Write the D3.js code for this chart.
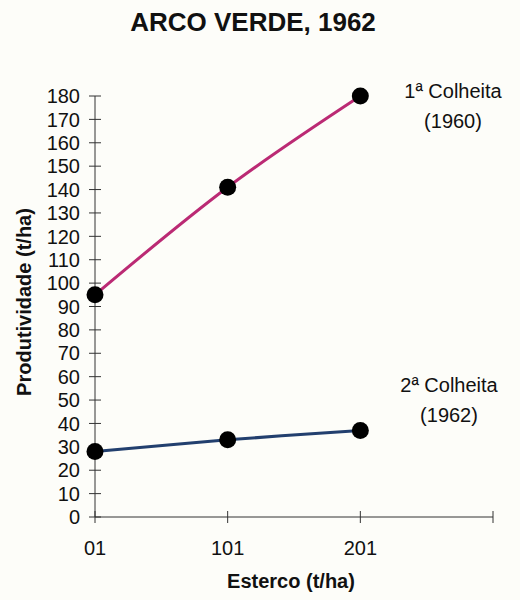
<!DOCTYPE html>
<html>
<head>
<meta charset="utf-8">
<script src="https://cdn.jsdelivr.net/npm/d3@7"></script>
<style>
  body { margin: 0; background: #fdfdf9; }
  text { font-family: "Liberation Sans", Arial, sans-serif; fill: #111; }
</style>
</head>
<body>
<svg id="chart" width="520" height="600"></svg>
<script>
// data
const categories = ['01', '101', '201'];
const colheita1960 = [95, 141, 180];
const colheita1962 = [28, 33, 37];
const yTicks = d3.range(0, 181, 10);

const svg = d3.select('#chart');
const margin = { left: 95, top: 96, right: 27, bottom: 83 };
const width = +svg.attr('width');
const height = +svg.attr('height');

const xScale = d3.scaleLinear()
  .domain([0, 3])
  .range([margin.left, width - margin.right]);

const yScale = d3.scaleLinear()
  .domain([0, 180])
  .range([height - margin.bottom, margin.top]);

// title
svg.append('text')
  .attr('x', 253)
  .attr('y', 31)
  .attr('text-anchor', 'middle')
  .style('font-size', '26px')
  .style('font-weight', 'bold')
  .text('ARCO VERDE, 1962');

// y-axis
const yAxisG = svg.append('g')
  .attr('transform', `translate(${margin.left},0)`);
yAxisG.append('line')
  .attr('y1', yScale(0)).attr('y2', yScale(180))
  .attr('stroke', '#333');
yAxisG.selectAll('.tick').data(yTicks)
  .enter().append('line')
    .attr('x1', -6).attr('x2', 6)
    .attr('y1', d => yScale(d)).attr('y2', d => yScale(d))
    .attr('stroke', '#333');
yAxisG.selectAll('.tick-label').data(yTicks)
  .enter().append('text')
    .attr('x', -15)
    .attr('y', d => yScale(d))
    .attr('dy', '0.36em')
    .attr('text-anchor', 'end')
    .style('font-size', '20px')
    .text(d => d);

// x-axis
const xAxisG = svg.append('g')
  .attr('transform', `translate(0,${yScale(0)})`);
xAxisG.append('line')
  .attr('x1', xScale(0)).attr('x2', xScale(3))
  .attr('stroke', '#333');
xAxisG.selectAll('.tick').data(d3.range(0, 4))
  .enter().append('line')
    .attr('x1', d => xScale(d)).attr('x2', d => xScale(d))
    .attr('y1', -6).attr('y2', 6)
    .attr('stroke', '#333');
xAxisG.selectAll('.tick-label').data(categories)
  .enter().append('text')
    .attr('x', (d, i) => xScale(i))
    .attr('y', 38)
    .attr('text-anchor', 'middle')
    .style('font-size', '20px')
    .text(d => d);

// axis labels
svg.append('text')
  .attr('x', 291)
  .attr('y', 588)
  .attr('text-anchor', 'middle')
  .style('font-size', '20px')
  .style('font-weight', 'bold')
  .text('Esterco (t/ha)');

svg.append('text')
  .attr('transform', `translate(31,302) rotate(-90)`)
  .attr('text-anchor', 'middle')
  .style('font-size', '20px')
  .style('font-weight', 'bold')
  .text('Produtividade (t/ha)');

// lines + points
const series = [
  { values: colheita1960, color: '#bb2a74', label: '1ª Colheita', year: '(1960)', lx: 453, ly: 98 },
  { values: colheita1962, color: '#223f6e', label: '2ª Colheita', year: '(1962)', lx: 449, ly: 392 }
];

const line = d3.line()
  .x((d, i) => xScale(i))
  .y(d => yScale(d))
  .curve(d3.curveCardinal);

series.forEach(s => {
  svg.append('path')
    .datum(s.values)
    .attr('fill', 'none')
    .attr('stroke', s.color)
    .attr('stroke-width', 3)
    .attr('d', line);
  svg.selectAll(null).data(s.values)
    .enter().append('circle')
      .attr('cx', (d, i) => xScale(i))
      .attr('cy', d => yScale(d))
      .attr('r', 8.5)
      .attr('fill', '#000');
  const t = svg.append('text')
    .attr('x', s.lx)
    .attr('y', s.ly)
    .attr('text-anchor', 'middle')
    .style('font-size', '20px');
  t.append('tspan').text(s.label);
  t.append('tspan').attr('x', s.lx).attr('dy', 30).text(s.year);
});
</script>
</body>
</html>
